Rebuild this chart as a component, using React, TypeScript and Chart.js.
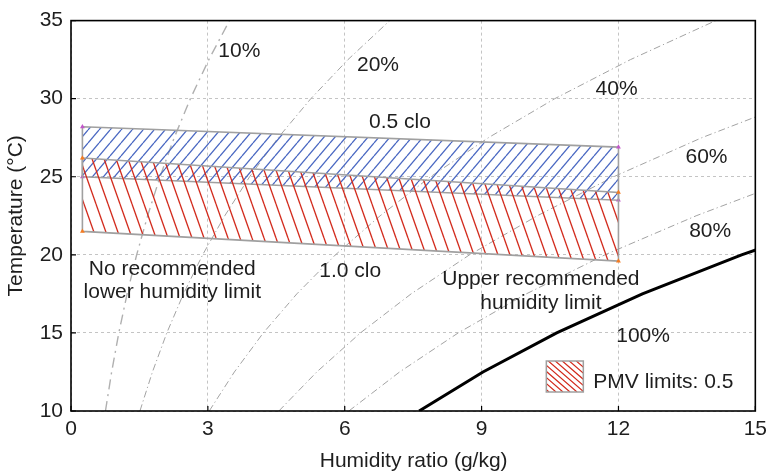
import React, { useEffect, useRef } from 'react';
import { Chart, registerables } from 'chart.js';

Chart.register(...registerables);

const FONT = '"Liberation Sans", Arial, Helvetica, sans-serif';
const FONT_SIZE = 21;
const TEXT_COLOR = '#1e1e1e';

// Dry-bulb temperatures (°C) at which the relative-humidity curves are sampled
const rhTemps = [10, 12.5, 15, 17.5, 20, 22.5, 25, 27.5, 30, 32.5, 35];
// Humidity ratio (g/kg) along each relative-humidity curve
const rh10 = [0.755, 0.891, 1.048, 1.23, 1.439, 1.68, 1.951, 2.262, 2.617, 3.021, 3.474];
const rh20 = [1.511, 1.785, 2.1, 2.465, 2.885, 3.37, 3.915, 4.541, 5.257, 6.071, 6.987];
const rh40 = [3.03, 3.581, 4.215, 4.95, 5.797, 6.776, 7.88, 9.149, 10.604, 12.262, 14.133];
const rh60 = [4.556, 5.387, 6.344, 7.455, 8.736, 10.22, 11.895, 13.826, 16.04];
const rh80 = [6.09, 7.203, 8.487, 9.98, 11.703, 13.702, 15.962];
const rh100 = [7.631, 9.03, 10.646, 12.525, 14.698, 17.22];

// Comfort zones (PMV ±0.5) between the two humidity-ratio bounds
const zoneW = [0.25, 12];
const clo05Upper = [28.2, 26.9];
const clo05Lower = [25.0, 23.5];
const clo10Upper = [26.2, 24.0];
const clo10Lower = [21.5, 19.6];

// Axis ticks
const xTicks = [0, 3, 6, 9, 12, 15];
const yTicks = [10, 15, 20, 25, 30, 35];

const curve = (ws: number[]) => ws.map((w, i) => ({ x: w, y: rhTemps[i] }));
const zone = (upper: number[], lower: number[]) => [
  { x: zoneW[0], y: upper[0] },
  { x: zoneW[1], y: upper[1] },
  { x: zoneW[1], y: lower[1] },
  { x: zoneW[0], y: lower[0] },
  { x: zoneW[0], y: upper[0] },
];

function hatch(w: number, h: number, color: string, back: boolean, lw: number) {
  const c = document.createElement('canvas');
  c.width = w;
  c.height = h;
  const g = c.getContext('2d')!;
  g.strokeStyle = color;
  g.lineWidth = lw;
  for (const o of [-w, 0, w]) {
    g.beginPath();
    if (back) {
      g.moveTo(o, 0);
      g.lineTo(o + w, h);
    } else {
      g.moveTo(o, h);
      g.lineTo(o + w, 0);
    }
    g.stroke();
  }
  return g.createPattern(c, 'repeat')!;
}

export default function App() {
  const ref = useRef<HTMLCanvasElement>(null);

  useEffect(() => {
    const canvas = ref.current!;
    const blueHatch = hatch(11, 13, '#4a68c2', false, 1.3);
    const redHatch = hatch(12, 34, '#d22a1c', true, 1.3);

    const rhStyle = (ws: number[], dash: number[], width: number, color = '#a3a3a3') => ({
      data: curve(ws),
      showLine: true,
      borderColor: color,
      borderWidth: width,
      borderDash: dash,
      pointRadius: 0,
      fill: false,
      tension: 0,
    });

    const zoneStyle = (upper: number[], lower: number[], pattern: CanvasPattern, marker: string) => ({
      data: zone(upper, lower),
      showLine: true,
      borderColor: '#a0a0a0',
      borderWidth: 1.6,
      backgroundColor: pattern,
      fill: 'shape',
      pointStyle: 'triangle',
      pointRadius: [2.8, 2.8, 2.8, 2.8, 0],
      pointBackgroundColor: marker,
      pointBorderColor: marker,
      pointBorderWidth: 0,
      tension: 0,
    });

    const overlay = {
      id: 'overlay',
      afterDatasetsDraw(chart: any) {
        const { ctx, chartArea: a } = chart;
        const xs = chart.scales.x;
        const ys = chart.scales.y;
        const px = (w: number) => xs.getPixelForValue(w);
        const py = (t: number) => ys.getPixelForValue(t);
        ctx.save();

        // frame and inward ticks
        ctx.strokeStyle = '#000';
        ctx.lineWidth = 1.6;
        ctx.strokeRect(a.left, a.top, a.right - a.left, a.bottom - a.top);
        ctx.lineWidth = 1.2;
        ctx.beginPath();
        xTicks.forEach((v) => {
          ctx.moveTo(px(v), a.bottom);
          ctx.lineTo(px(v), a.bottom - 5);
        });
        yTicks.forEach((v) => {
          ctx.moveTo(a.left, py(v));
          ctx.lineTo(a.left + 5, py(v));
        });
        ctx.stroke();

        // annotations
        ctx.font = `${FONT_SIZE}px ${FONT}`;
        ctx.fillStyle = TEXT_COLOR;
        ctx.textAlign = 'center';
        ctx.textBaseline = 'alphabetic';
        const put = (s: string, w: number, t: number, dy = 0) => ctx.fillText(s, px(w), py(t) + dy);
        put('10%', 3.69, 32.66);
        put('20%', 6.73, 31.77);
        put('40%', 11.96, 30.25);
        put('60%', 13.93, 25.89);
        put('80%', 14.01, 21.14);
        put('100%', 12.54, 14.43);
        put('0.5 clo', 7.21, 28.1);
        put('1.0 clo', 6.12, 18.61);
        put('No recommended', 2.22, 18.73);
        put('lower humidity limit', 2.22, 18.73, 23);
        put('Upper recommended', 10.3, 18.1);
        put('humidity limit', 10.3, 18.1, 24);

        // legend
        const sx = a.right - 209;
        const sy = a.bottom - 50;
        const sw = 37;
        const sh = 31;
        ctx.save();
        ctx.beginPath();
        ctx.rect(sx, sy, sw, sh);
        ctx.clip();
        ctx.strokeStyle = '#d22a1c';
        ctx.lineWidth = 1.2;
        ctx.beginPath();
        for (let k = -40; k < sw + 10; k += 7) {
          ctx.moveTo(sx + k, sy);
          ctx.lineTo(sx + k + sh * 1.15, sy + sh);
        }
        ctx.stroke();
        ctx.restore();
        ctx.strokeStyle = '#a0a0a0';
        ctx.lineWidth = 1.5;
        ctx.strokeRect(sx, sy, sw, sh);
        ctx.textAlign = 'left';
        ctx.fillText('PMV limits: 0.5', sx + 47, sy + 27);

        // axis titles
        ctx.textAlign = 'center';
        ctx.fillText('Humidity ratio (g/kg)', (a.left + a.right) / 2 + 0.5, 467);
        ctx.save();
        ctx.translate(22, (a.top + a.bottom) / 2);
        ctx.rotate(-Math.PI / 2);
        ctx.fillText('Temperature (°C)', 0, 0);
        ctx.restore();

        ctx.restore();
      },
    };

    const tickFont = { family: FONT, size: FONT_SIZE };

    const chart = new Chart(canvas, {
      type: 'scatter',
      data: {
        datasets: [
          zoneStyle(clo10Upper, clo10Lower, redHatch, '#f47b22') as any,
          zoneStyle(clo05Upper, clo05Lower, blueHatch, '#c257c9') as any,
          { ...rhStyle(rh100, [], 3), borderColor: '#000' },
          rhStyle(rh80, [7, 3, 1.2, 3], 1),
          rhStyle(rh60, [7, 3, 1.2, 3], 1),
          rhStyle(rh40, [7, 3, 1.2, 3], 1),
          rhStyle(rh20, [7, 3, 1.2, 3], 1),
          rhStyle(rh10, [10, 5, 2, 5], 1.4, '#b0b0b0'),
        ],
      },
      options: {
        responsive: false,
        animation: false,
        events: [],
        layout: { padding: { top: 16, right: 13, left: 0, bottom: 0 } },
        plugins: { legend: { display: false }, tooltip: { enabled: false } },
        scales: {
          x: {
            type: 'linear',
            min: 0,
            max: 15,
            afterBuildTicks: (s: any) => {
              s.ticks = xTicks.map((v) => ({ value: v }));
            },
            afterFit: (s: any) => {
              s.height = 63;
            },
            ticks: { font: tickFont, color: TEXT_COLOR, padding: 6, maxRotation: 0 },
            grid: { color: '#c4c4c4', lineWidth: 1, drawTicks: false },
            border: { display: false, dash: [3, 3] },
          },
          y: {
            type: 'linear',
            min: 10,
            max: 35,
            afterBuildTicks: (s: any) => {
              s.ticks = yTicks.map((v) => ({ value: v }));
            },
            afterFit: (s: any) => {
              s.width = 71;
            },
            ticks: { font: tickFont, color: TEXT_COLOR, padding: 8 },
            grid: { color: '#c4c4c4', lineWidth: 1, drawTicks: false },
            border: { display: false, dash: [3, 3] },
          },
        },
      },
      plugins: [overlay],
    } as any);

    return () => chart.destroy();
  }, []);

  return (
    <canvas
      ref={ref}
      width={773}
      height={474}
      style={{ position: 'absolute', left: 0, top: 0, width: 773, height: 474 }}
    />
  );
}
